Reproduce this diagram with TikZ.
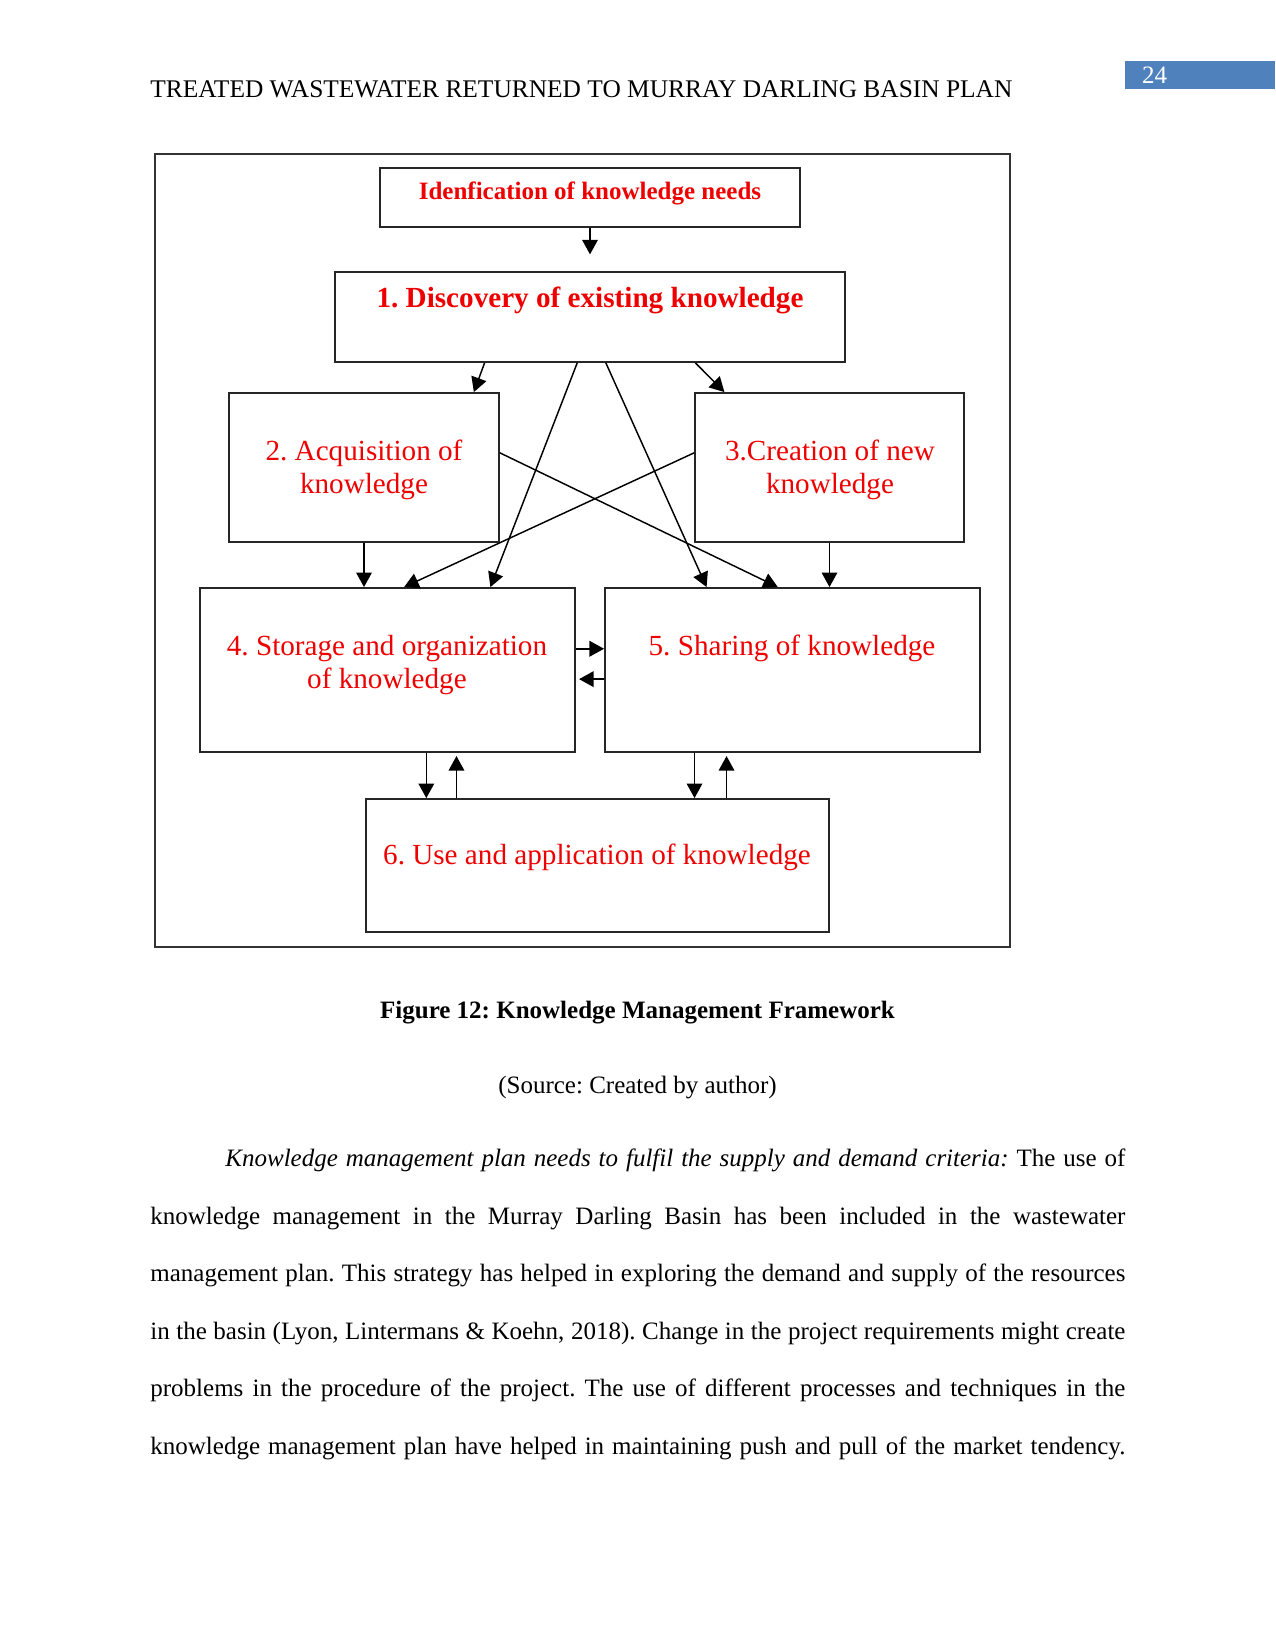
\documentclass[tikz,border=0pt]{standalone}
\usepackage{fontspec}
\setmainfont{Liberation Serif}
\usepackage{tikz}
\usetikzlibrary{arrows.meta, calc}
\definecolor{pgblue}{RGB}{79,129,189}
\definecolor{knred}{RGB}{238,0,0}

\begin{document}
\frenchspacing
\begin{tikzpicture}[x=0.48pt, y=-0.48pt,
  box/.style={draw=black!85, line width=0.9pt, inner sep=0pt},
  lbl/.style={text=knred, font=\fontsize{14}{15.8}\selectfont, align=center, inner sep=0pt},
  arr/.style={-{Triangle[length=7pt,width=7.5pt]}, line width=0.7pt},
  body/.style={font=\fontsize{12}{27.6}\selectfont, inner sep=0pt}
]
\fill[white] (0,0) rectangle (1275,1651);
\useasboundingbox (0,0) rectangle (1275,1651);

% page header
\node[body, font=\fontsize{12.2}{14}\selectfont, anchor=base west] (head) at (150,98) {TREATED WASTEWATER RETURNED TO MURRAY DARLING BASIN PLAN};
\node[fill=pgblue, text=white, anchor=north west, minimum width=72pt, minimum height=13.4pt,
      text width=56pt, inner xsep=8pt, inner ysep=0pt, align=left,
      font=\fontsize{12}{14}\selectfont] (pgnum) at (1125,61) {24};

% figure frame
\draw[line width=0.9pt, black!80] (155,154) rectangle (1010,947);

% boxes
\node[box, minimum width=201.6pt, minimum height=28.3pt] (need) at (590,197.5) {};
\node[box, minimum width=244.8pt, minimum height=43.2pt] (b1) at (590,317) {};
\node[box, minimum width=129.6pt, minimum height=71.5pt] (b2) at (364,467.5) {};
\node[box, minimum width=129.1pt, minimum height=71.5pt] (b3) at (829.5,467.5) {};
\node[box, minimum width=180pt, minimum height=78.7pt] (b4) at (387.5,670) {};
\node[box, minimum width=180pt, minimum height=78.7pt] (b5) at (792.5,670) {};
\node[box, minimum width=222.2pt, minimum height=63.8pt] (b6) at (597.5,865.5) {};

% labels (two-line labels sit on their last line)
\node[lbl, font=\bfseries\fontsize{12}{14}\selectfont, anchor=base] (tneed) at (590,200) {Idenfication of knowledge needs};
\node[lbl, font=\bfseries\fontsize{14}{15.8}\selectfont, anchor=base] (t1) at (590,307) {1. Discovery of existing knowledge};
\node[lbl, anchor=base] (t2) at (364,493) {2. Acquisition of\\knowledge};
\node[lbl, anchor=base] (t3) at (830,493) {3.Creation of new\\knowledge};
\node[lbl, anchor=base] (t4) at (387,688) {4. Storage and organization\\of knowledge};
\node[lbl, anchor=base] (t5) at (792,655) {5. Sharing of knowledge};
\node[lbl, anchor=base] (t6) at (597,864) {6. Use and application of knowledge};

% connectors
\draw[arr, shorten >=8pt] (need) -- (b1);
\draw[arr] ($(b1.south west)!.294!(b1.south east)$) -- ($(b2.north west)!.904!(b2.north east)$);
\draw[arr] ($(b1.south west)!.706!(b1.south east)$) -- ($(b3.north west)!.112!(b3.north east)$);
\draw[arr] ($(b1.south west)!.475!(b1.south east)$) -- ($(b4.north west)!.773!(b4.north east)$);
\draw[arr] ($(b1.south west)!.531!(b1.south east)$) -- ($(b5.north west)!.272!(b5.north east)$);
\draw[arr] ($(b2.north east)!.403!(b2.south east)$) -- ($(b5.north west)!.461!(b5.north east)$);
\draw[arr] ($(b3.north west)!.403!(b3.south west)$) -- ($(b4.north west)!.544!(b4.north east)$);
\draw[arr] (b2.south) -- (b2.south |- b4.north);
\draw[arr] (b3.south) -- (b3.south |- b5.north);
\draw[arr] ($(b4.north east)!.372!(b4.south east)$) coordinate (r1) -- (r1 -| b5.west);
\draw[arr, shorten >=1.5pt] ($(b5.north west)!.555!(b5.south west)$) coordinate (r2) -- (r2 -| b4.east);
\draw[arr] ($(b4.south west)!.603!(b4.south east)$) coordinate (d1) -- (d1 |- b6.north);
\coordinate (u1) at ($(b4.south west)!.683!(b4.south east)$);
\draw[arr, shorten >=1.5pt] (u1 |- b6.north) -- (u1);
\draw[arr] ($(b5.south west)!.24!(b5.south east)$) coordinate (d2) -- (d2 |- b6.north);
\coordinate (u2) at ($(b5.south west)!.325!(b5.south east)$);
\draw[arr, shorten >=1.5pt] (u2 |- b6.north) -- (u2);

% caption and text
\node[body, font=\bfseries\fontsize{12}{14}\selectfont, anchor=base] (cap) at (637.5,1018) {Figure 12: Knowledge Management Framework};
\node[body, anchor=base] (src) at (637.5,1093) {(Source: Created by author)};
\node[body, anchor=base west, text width=468pt, align=justify] (para) at (150,1166.5) {%
\noindent\hspace*{36pt}\makebox[432pt][s]{\textit{Knowledge management plan needs to fulfil the supply and demand criteria:} The use of}\\
\makebox[468pt][s]{knowledge management in the Murray Darling Basin has been included in the wastewater}\\
\makebox[468pt][s]{management plan. This strategy has helped in exploring the demand and supply of the resources}\\
\makebox[468pt][s]{in the basin (Lyon, Lintermans \& Koehn, 2018). Change in the project requirements might create}\\
\makebox[468pt][s]{problems in the procedure of the project. The use of different processes and techniques in the}\\
\makebox[468pt][s]{knowledge management plan have helped in maintaining push and pull of the market tendency.}};
\end{tikzpicture}
\end{document}
